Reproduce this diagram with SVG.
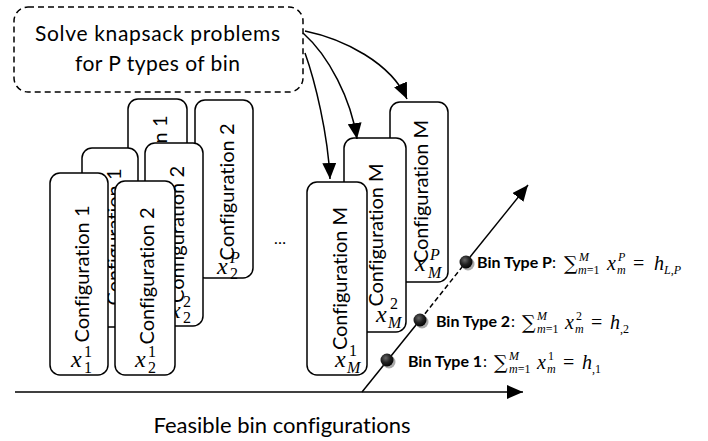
<svg xmlns="http://www.w3.org/2000/svg" width="708" height="441" viewBox="0 0 708 441">
  <style>
    text { font-variant-ligatures: none; }
    .card { fill: #fff; stroke: #000; stroke-width: 1.5; }
    .ct { font-family: Lato, "Open Sans", sans-serif; font-size: 20px; text-anchor: middle; fill: #000; }
    .lbl { font-family: Lato, "Open Sans", sans-serif; fill: #000; }
    .bold { font-family: Lato, "Open Sans", sans-serif; font-weight: bold; font-size: 16px; fill: #000; }
    .mx { font-family: "Liberation Serif", "DejaVu Serif", serif; font-style: italic; font-size: 24px; fill: #000; }
    .ms { font-family: "Liberation Serif", "DejaVu Serif", serif; font-size: 16px; fill: #000; }
    .msi { font-family: "Liberation Serif", "DejaVu Serif", serif; font-style: italic; font-size: 16px; fill: #000; }
    .eq { font-family: "Liberation Serif", "DejaVu Serif", serif; font-size: 20px; fill: #000; }
    .eqi { font-family: "Liberation Serif", "DejaVu Serif", serif; font-style: italic; font-size: 20px; fill: #000; }
    .es { font-family: "Liberation Serif", "DejaVu Serif", serif; font-size: 12px; fill: #000; }
    .esi { font-family: "Liberation Serif", "DejaVu Serif", serif; font-style: italic; font-size: 12px; fill: #000; }
    .sum { font-family: "DejaVu Serif", serif; font-size: 19px; fill: #000; }
    .line { fill: none; stroke: #000; stroke-width: 1.5; }
    .dash { fill: none; stroke: #000; stroke-width: 1.5; stroke-dasharray: 5 3; }
  </style>
  <defs>
    <marker id="head" markerUnits="userSpaceOnUse" markerWidth="16" markerHeight="14" refX="16" refY="7" orient="auto">
      <path d="M0,0 L16,7 L0,14 z" fill="#000"/>
    </marker>
    <radialGradient id="ball" cx="0.4" cy="0.35" r="0.7">
      <stop offset="0" stop-color="#666"/>
      <stop offset="0.5" stop-color="#222"/>
      <stop offset="1" stop-color="#000"/>
    </radialGradient>
  </defs>

  <!-- knapsack step -->
  <g id="knapsack">
    <rect x="14" y="7" width="289" height="85" rx="14" fill="#fff" stroke="#000" stroke-width="1.5" stroke-dasharray="6 4"/>
    <text class="lbl" x="157.5" y="41" font-size="21" text-anchor="middle" textLength="245">Solve knapsack problems</text>
    <text class="lbl" x="157.5" y="71" font-size="21" text-anchor="middle" textLength="165">for P types of bin</text>
  </g>

  <!-- bin type P layer (back) -->
  <g id="cfg1-P">
    <rect class="card" x="128" y="99" width="59" height="180" rx="10"/>
    <text class="ct" transform="translate(167,184) rotate(-90)" textLength="137">Configuration 1</text>
  </g>
  <g id="cfg2-P">
    <rect class="card" x="195" y="100" width="58" height="178" rx="10"/>
    <text class="ct" transform="translate(234,192) rotate(-90)" textLength="137">Configuration 2</text>
    <text class="mx" x="217" y="274">x</text>
    <text class="msi" x="230" y="263">P</text>
    <text class="ms" x="230" y="279">2</text>
  </g>
  <g id="cfgM-P">
    <rect class="card" x="390" y="102" width="58" height="180" rx="10"/>
    <text class="ct" transform="translate(428,191.5) rotate(-90)" textLength="143">Configuration M</text>
    <text class="mx" x="415" y="271">x</text>
    <text class="msi" x="430" y="260">P</text>
    <text class="msi" x="428" y="278">M</text>
  </g>

  <!-- bin type 2 layer -->
  <g id="cfg1-2">
    <rect class="card" x="82" y="148" width="56" height="179" rx="10"/>
    <text class="ct" transform="translate(121,237) rotate(-90)" textLength="137">Configuration 1</text>
  </g>
  <g id="cfg2-2">
    <rect class="card" x="145" y="143" width="58" height="183" rx="10"/>
    <text class="ct" transform="translate(184,234.5) rotate(-90)" textLength="137">Configuration 2</text>
    <text class="mx" x="170" y="318">x</text>
    <text class="ms" x="183" y="307">2</text>
    <text class="ms" x="183" y="323">2</text>
  </g>
  <g id="cfgM-2">
    <rect class="card" x="344" y="138" width="62" height="194" rx="10"/>
    <text class="ct" transform="translate(383,235) rotate(-90)" textLength="143">Configuration M</text>
    <text class="mx" x="376" y="322">x</text>
    <text class="ms" x="390" y="309">2</text>
    <text class="msi" x="388" y="328">M</text>
  </g>

  <!-- bin type 1 layer (front) -->
  <g id="cfg1-1">
    <rect class="card" x="50" y="173" width="58" height="202" rx="10"/>
    <text class="ct" transform="translate(89,274) rotate(-90)" textLength="137">Configuration 1</text>
    <text class="mx" x="71" y="367">x</text>
    <text class="ms" x="84" y="357">1</text>
    <text class="ms" x="84" y="373">1</text>
  </g>
  <g id="cfg2-1">
    <rect class="card" x="115" y="181" width="60" height="194" rx="10"/>
    <text class="ct" transform="translate(154,276) rotate(-90)" textLength="137">Configuration 2</text>
    <text class="mx" x="135" y="367">x</text>
    <text class="ms" x="148" y="357">1</text>
    <text class="ms" x="148" y="373">2</text>
  </g>
  <g id="cfgM-1">
    <rect class="card" x="307" y="182" width="60" height="193" rx="10"/>
    <text class="ct" transform="translate(347,278.5) rotate(-90)" textLength="143">Configuration M</text>
    <text class="mx" x="335" y="367">x</text>
    <text class="ms" x="349" y="356">1</text>
    <text class="msi" x="347" y="373">M</text>
  </g>

  <text id="ellipsis" class="lbl" x="280" y="244" font-size="16" text-anchor="middle">…</text>

  <!-- connectors -->
  <g id="connectors">
    <path class="line" d="M305,31 C344,39 391,63 407,99" marker-end="url(#head)"/>
    <path class="line" d="M303,33 C329,56 351,99 357,139" marker-end="url(#head)"/>
    <path class="line" d="M305,53 C315,81 328,134 330,179" marker-end="url(#head)"/>
    <!-- configuration axis -->
    <line class="line" x1="15" y1="392" x2="523" y2="392" marker-end="url(#head)"/>
    <!-- bin type axis -->
    <line class="line" x1="362" y1="392" x2="420" y2="320"/>
    <line class="dash" x1="420" y1="320" x2="466" y2="262"/>
    <line class="line" x1="466" y1="262" x2="528" y2="185" marker-end="url(#head)"/>
  </g>

  <!-- bin type points -->
  <g id="pt1">
    <circle cx="389" cy="362" r="6.5" fill="#aaa"/>
    <circle cx="387" cy="360" r="6.5" fill="url(#ball)"/>
  </g>
  <g id="pt2">
    <circle cx="422" cy="322" r="6.5" fill="#aaa"/>
    <circle cx="420" cy="320" r="6.5" fill="url(#ball)"/>
  </g>
  <g id="ptP">
    <circle cx="468" cy="264" r="6.5" fill="#aaa"/>
    <circle cx="466" cy="262" r="6.5" fill="url(#ball)"/>
  </g>

  <!-- bin type constraints -->
  <g id="label1">
    <text class="bold" x="408" y="367" textLength="74">Bin Type 1</text>
    <text class="lbl" x="483" y="367" font-size="16">:</text>
    <text class="sum" x="494" y="369">∑</text>
    <text class="esi" x="509" y="360">M</text>
    <text class="es" x="509" y="373"><tspan font-style="italic">m</tspan>=1</text>
    <text class="eqi" x="537" y="369">x</text>
    <text class="es" x="548" y="360">1</text>
    <text class="esi" x="547" y="373">m</text>
    <text class="eq" x="563" y="369">=</text>
    <text class="eqi" x="582" y="369">h</text>
    <text class="es" x="592" y="373">,1</text>
  </g>
  <g id="label2">
    <text class="bold" x="436" y="327" textLength="74">Bin Type 2</text>
    <text class="lbl" x="511" y="327" font-size="16">:</text>
    <text class="sum" x="522" y="329">∑</text>
    <text class="esi" x="537" y="320">M</text>
    <text class="es" x="537" y="333"><tspan font-style="italic">m</tspan>=1</text>
    <text class="eqi" x="565" y="329">x</text>
    <text class="es" x="576" y="320">2</text>
    <text class="esi" x="575" y="333">m</text>
    <text class="eq" x="591" y="329">=</text>
    <text class="eqi" x="610" y="329">h</text>
    <text class="es" x="620" y="333">,2</text>
  </g>
  <g id="labelP">
    <text class="bold" x="477" y="268" textLength="75">Bin Type P</text>
    <text class="lbl" x="552" y="268" font-size="16">:</text>
    <text class="sum" x="564" y="270">∑</text>
    <text class="esi" x="579" y="261">M</text>
    <text class="es" x="578" y="274"><tspan font-style="italic">m</tspan>=1</text>
    <text class="eqi" x="607" y="270">x</text>
    <text class="esi" x="618" y="261">P</text>
    <text class="esi" x="617" y="274">m</text>
    <text class="eq" x="633" y="270">=</text>
    <text class="eqi" x="654" y="270">h</text>
    <text class="esi" x="664" y="274">L<tspan font-style="normal">,</tspan>P</text>
  </g>

  <text id="axis-label" class="lbl" x="282" y="433" font-size="22" text-anchor="middle" textLength="257">Feasible bin configurations</text>
</svg>
